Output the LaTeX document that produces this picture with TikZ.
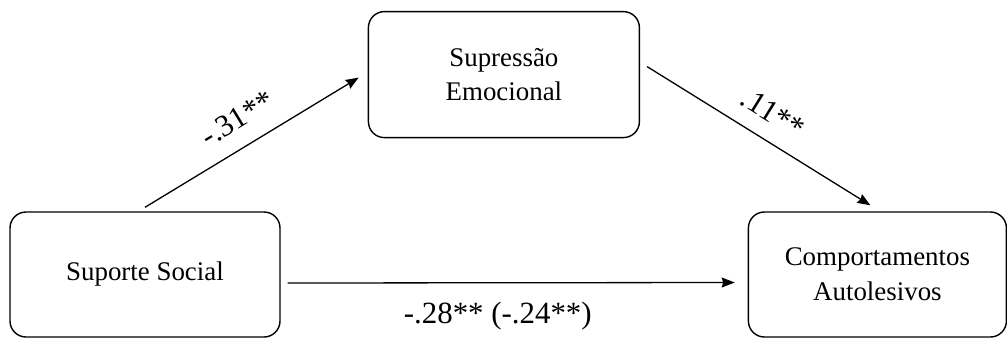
\documentclass[tikz,border=0pt]{standalone}
\usepackage{fontspec}
\setmainfont{Liberation Serif}
\usetikzlibrary{arrows.meta, positioning}

\begin{document}
\begin{tikzpicture}[
    x=1bp, y=-1bp,
    >={Stealth[length=13bp, width=10bp, inset=1.5bp]},
    box/.style={draw, rounded corners=16bp, line width=1.4bp, align=center,
        minimum height=125bp, font=\fontsize{27}{35}\selectfont},
    lbl/.style={draw=none, font=\fontsize{31}{34}\selectfont, inner sep=2bp},
    line width=1.3bp
]
\useasboundingbox (0,0) rectangle (1007,338);

% --- Nodes ---
\node[box, minimum width=270bp] (ss) at (145,274.5) {Suporte Social};
\node[box, minimum width=271bp, minimum height=126bp] (se)
    [above right=73bp and 87bp of ss.north east, anchor=south west] {Supress\~ao\\Emocional};
\node[box, minimum width=258bp] (sa) [right=467bp of ss] {Comportamentos\\Autolesivos};

% --- Paths with coefficients ---
\draw[->] ([yshift=4bp]ss.north) -- node[lbl, sloped, above=15bp, pos=0.5] {-.31**}
    ([xshift=-9bp, yshift=-3bp]se.west);
\draw[->] ([xshift=7bp, yshift=8bp]se.east) -- node[lbl, sloped, above=14bp, pos=0.5] {.11**}
    ([xshift=-7bp, yshift=6bp]sa.north);
\draw[->] ([xshift=7bp, yshift=-8.5bp]ss.east) -- node[lbl, below=17bp, pos=0.47] {-.28** (-.24**)}
    ([xshift=-13bp, yshift=-8bp]sa.west);

\end{tikzpicture}
\end{document}
